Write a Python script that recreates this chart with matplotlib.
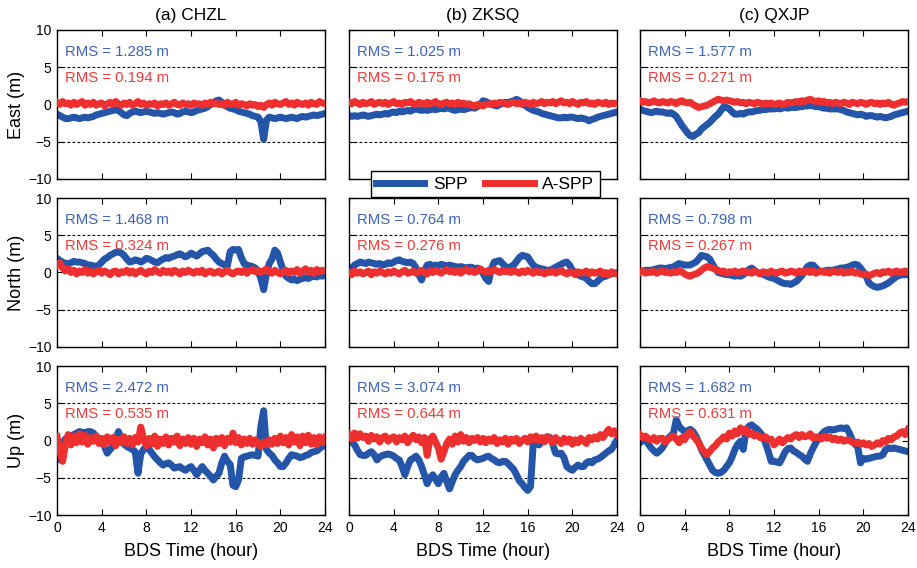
import numpy as np
import matplotlib
matplotlib.use("Agg")
import matplotlib.pyplot as plt

plt.rcParams['font.family'] = ['Liberation Sans', 'DejaVu Sans']

# stations (columns) and components (rows)
stations = ['(a) CHZL', '(b) ZKSQ', '(c) QXJP']
components = ['East (m)', 'North (m)', 'Up (m)']
series_names = ['SPP', 'A-SPP']

# RMS values, [component][station] -> (SPP, A-SPP)
rms_spp = [[1.285, 1.025, 1.577],
           [1.468, 0.764, 0.798],
           [2.472, 3.074, 1.682]]
rms_aspp = [[0.194, 0.175, 0.271],
            [0.324, 0.276, 0.267],
            [0.535, 0.644, 0.631]]

# positioning errors (m), sampled every 15 min over the day
a_E_spp = ([-1.3, -1.5, -1.7, -1.9, -1.9, -1.8, -1.7, -1.8, -1.9, -1.8, -1.7, -1.8, -1.7, -1.6, -1.4, -1.3, -1.2, -1.1, -1.0, -0.9, -0.8, -0.7, -0.8, -1.1]
           + [-1.4, -1.5, -1.2, -1.0, -0.9, -1.0, -1.1, -1.0, -0.9, -1.0, -1.1, -1.2, -1.1, -1.2, -1.3, -1.2, -1.1, -1.0, -1.1, -1.3, -1.2, -1.0, -0.9, -1.0]
           + [-1.1, -1.0, -0.8, -0.7, -0.6, -0.5, -0.3, 0.0, 0.2, 0.5, 0.6, 0.3, -0.1, -0.3, -0.5, -0.6, -0.7, -0.9, -1.0, -1.1, -1.2, -1.3, -1.5, -1.6]
           + [-1.7, -2.3, -4.7, -2.1, -1.7, -1.8, -1.9, -1.8, -1.7, -1.8, -1.9, -1.8, -1.7, -1.8, -1.9, -1.7, -1.6, -1.7, -1.6, -1.5, -1.4, -1.5, -1.4, -1.3, -1.2])
a_E_aspp = ([0.3, 0.0, 0.4, 0.1, 0.2, -0.1, 0.3, 0.0, 0.2, 0.4, -0.1, 0.2, 0.0, 0.3, -0.1, 0.1, 0.2, -0.2, 0.1, 0.3, 0.0, 0.4, 0.1, -0.1]
            + [0.2, 0.0, 0.3, -0.1, 0.1, 0.4, 0.0, 0.2, -0.1, 0.1, 0.0, 0.2, -0.2, 0.1, 0.0, 0.2, -0.1, 0.1, 0.3, 0.0, -0.1, 0.2, 0.0, 0.1]
            + [-0.1, 0.2, 0.0, 0.1, -0.1, 0.2, 0.0, 0.3, 0.1, 0.2, 0.0, 0.1, -0.1, 0.3, 0.1, 0.0, 0.3, -0.1, 0.1, 0.0, -0.2, 0.1, -0.1, 0.0]
            + [-0.3, -0.1, -0.4, 0.0, 0.2, -0.1, 0.3, 0.1, 0.0, 0.2, 0.4, 0.0, 0.2, -0.1, 0.3, 0.1, 0.0, 0.2, -0.1, 0.3, 0.1, 0.0, 0.4, 0.2, 0.1])

b_E_spp = ([-1.5, -1.6, -1.5, -1.6, -1.5, -1.4, -1.5, -1.6, -1.5, -1.4, -1.3, -1.4, -1.3, -1.2, -1.3, -1.1, -1.0, -1.1, -0.9, -1.0, -0.9, -0.8, -0.9, -0.7]
           + [-0.6, -0.7, -0.8, -0.7, -0.8, -0.7, -0.6, -0.7, -0.6, -0.5, -0.6, -0.5, -0.5, -0.7, -0.8, -0.7, -0.6, -0.7, -0.6, -0.5, -0.4, -0.5, -0.3, 0.0]
           + [0.5, 0.4, 0.2, 0.0, -0.1, -0.2, 0.0, 0.1, 0.3, 0.2, 0.4, 0.5, 0.7, 0.5, 0.2, -0.1, -0.4, -0.6, -0.8, -0.9, -1.0, -1.2, -1.3, -1.4]
           + [-1.5, -1.6, -1.7, -1.8, -1.8, -1.7, -1.8, -1.7, -1.7, -1.8, -1.9, -1.8, -1.9, -2.0, -2.2, -2.0, -1.9, -1.7, -1.6, -1.5, -1.4, -1.3, -1.2, -1.1, -1.0])
b_E_aspp = ([0.3, 0.1, 0.4, 0.2, 0.0, 0.3, 0.1, 0.2, 0.4, 0.0, 0.2, 0.3, 0.1, 0.3, 0.0, 0.2, 0.4, 0.1, 0.2, 0.0, 0.3, 0.2, 0.4, 0.1]
            + [0.0, 0.3, 0.2, 0.0, 0.3, 0.1, 0.2, 0.4, 0.1, 0.0, 0.2, 0.3, 0.1, 0.2, 0.0, 0.3, 0.1, 0.2, 0.0, 0.1, -0.1, -0.2, 0.0, -0.1]
            + [-0.2, 0.0, 0.1, 0.0, 0.2, 0.1, 0.3, 0.2, 0.1, 0.0, 0.2, 0.3, 0.1, 0.2, 0.0, 0.3, 0.2, 0.0, 0.3, 0.1, 0.2, 0.4, 0.1, 0.3]
            + [0.2, 0.4, 0.1, 0.3, 0.5, 0.2, 0.3, 0.1, 0.4, 0.2, 0.0, 0.3, 0.2, 0.4, 0.1, 0.2, 0.0, 0.3, 0.2, 0.1, 0.3, 0.0, 0.2, 0.1, 0.2])

c_E_spp = ([-0.6, -0.8, -0.9, -1.0, -1.1, -1.0, -0.9, -1.0, -1.0, -1.1, -1.2, -1.1, -1.3, -1.6, -2.2, -2.8, -3.3, -3.8, -4.2, -4.3, -4.0, -3.8, -3.3, -3.0]
           + [-2.7, -2.4, -2.0, -1.6, -1.3, -0.8, -0.3, -0.4, -0.6, -1.0, -1.3, -1.3, -1.2, -1.3, -1.1, -1.0, -1.0, -0.9, -0.8, -0.8, -0.6, -0.7, -0.6, -0.6]
           + [-0.6, -0.5, -0.6, -0.5, -0.4, -0.5, -0.4, -0.4, -0.4, -0.3, -0.3, -0.2, -0.2, -0.1, -0.2, -0.3, -0.3, -0.4, -0.5, -0.5, -0.6, -0.6, -0.6, -0.6]
           + [-0.7, -0.8, -1.0, -1.1, -1.2, -1.3, -1.4, -1.3, -1.4, -1.6, -1.5, -1.5, -1.6, -1.7, -1.6, -1.7, -1.8, -1.7, -1.6, -1.4, -1.3, -1.2, -1.1, -1.0, -0.9])
c_E_aspp = ([0.5, 0.3, 0.4, 0.2, 0.3, 0.5, 0.3, 0.2, 0.4, 0.3, 0.2, 0.4, 0.3, 0.1, 0.4, 0.5, 0.3, 0.2, 0.3, 0.0, -0.2, -0.4, -0.3, -0.2]
            + [-0.1, 0.1, 0.3, 0.5, 0.7, 0.6, 0.5, 0.6, 0.5, 0.4, 0.3, 0.4, 0.2, 0.3, 0.1, 0.3, 0.2, 0.1, 0.3, 0.2, 0.0, 0.2, 0.1, 0.2]
            + [0.0, 0.1, 0.2, 0.0, 0.1, 0.3, 0.2, 0.3, 0.4, 0.3, 0.5, 0.4, 0.6, 0.7, 0.5, 0.4, 0.5, 0.3, 0.4, 0.2, 0.3, 0.1, 0.3, 0.2]
            + [0.1, 0.3, 0.2, 0.0, 0.3, 0.2, 0.1, 0.3, 0.2, 0.0, 0.2, 0.3, 0.1, 0.2, 0.0, 0.2, 0.1, 0.3, 0.0, -0.1, 0.1, 0.2, 0.4, 0.3, 0.4])

a_N_spp = ([1.9, 1.6, 1.4, 1.2, 1.2, 1.3, 1.5, 1.4, 1.4, 1.3, 1.2, 1.0, 1.0, 0.9, 0.8, 1.0, 1.4, 1.8, 2.0, 2.3, 2.5, 2.7, 2.8, 2.6]
           + [2.3, 1.8, 1.4, 1.5, 1.7, 1.6, 1.4, 1.6, 1.9, 1.8, 1.6, 1.4, 1.3, 1.6, 1.8, 2.0, 1.9, 2.1, 2.2, 2.4, 2.5, 2.3, 2.1, 2.3]
           + [2.6, 2.4, 2.2, 2.5, 2.8, 2.9, 3.0, 2.6, 2.3, 1.8, 1.4, 1.2, 1.0, 0.9, 2.8, 3.1, 3.0, 3.1, 2.0, 1.2, 1.0, 0.9, 0.8, 0.6]
           + [0.2, -0.8, -2.3, -0.2, 1.2, 1.8, 3.0, 2.6, 1.4, 0.3, -0.5, -0.8, -1.0, -0.9, -1.1, -0.9, -0.8, -0.7, -0.8, -0.6, -0.5, -0.6, -0.4, -0.5, -0.3])
a_N_aspp = ([1.0, 1.3, 0.6, 0.2, 0.5, 0.0, 0.3, -0.2, 0.2, 0.0, 0.4, -0.1, 0.2, -0.2, 0.1, 0.3, -0.1, 0.2, 0.0, -0.3, 0.1, 0.2, -0.2, 0.1]
            + [0.0, 0.3, -0.1, 0.2, -0.2, 0.1, 0.3, 0.0, -0.2, 0.2, 0.0, 0.4, 0.1, -0.1, 0.3, 0.0, 0.2, -0.1, 0.3, 0.1, -0.2, 0.2, 0.0, 0.3]
            + [0.1, -0.1, 0.2, 0.0, 0.3, -0.2, 0.1, 0.2, -0.1, 0.0, 0.2, -0.2, 0.1, 0.3, 0.0, -0.2, 0.1, 0.2, 0.0, 0.3, -0.1, 0.2, 0.4, 0.1]
            + [0.3, 0.0, 0.2, 0.5, 0.1, -0.1, 0.3, 0.0, -0.2, 0.1, 0.3, -0.1, 0.2, 0.0, 0.4, -0.1, 0.2, 0.5, 0.0, 0.3, -0.1, 0.4, 0.1, 0.3, 0.2])

b_N_spp = ([0.3, 0.6, 1.0, 1.2, 1.4, 1.3, 1.2, 1.4, 1.3, 1.2, 1.1, 1.2, 1.0, 1.1, 1.3, 1.2, 1.4, 1.6, 1.7, 1.5, 1.4, 1.3, 1.4, 1.2]
           + [0.6, -0.3, -1.0, 0.2, 1.0, 1.1, 0.9, 1.0, 0.9, 1.1, 1.0, 0.8, 1.0, 0.9, 0.8, 0.7, 0.8, 0.7, 0.6, 0.7, 0.7, 0.5, 0.6, 0.3]
           + [-0.1, -0.8, -1.2, 0.5, 1.4, 1.5, 1.6, 1.2, 0.8, 0.6, 0.8, 1.0, 1.5, 2.0, 2.3, 2.2, 2.1, 1.5, 1.0, 0.7, 0.6, 0.5, 0.4, 0.3]
           + [0.3, 0.5, 0.7, 0.9, 1.1, 1.3, 1.4, 1.0, 0.3, 0.0, -0.3, -0.5, -0.6, -0.8, -1.2, -1.5, -1.5, -1.2, -0.8, -0.6, -0.5, -0.3, -0.2, -0.1, 0.0])
b_N_aspp = ([0.0, -0.3, 0.2, -0.1, 0.1, -0.2, 0.0, 0.2, -0.3, 0.1, -0.1, 0.2, 0.0, -0.2, 0.1, -0.1, 0.2, 0.0, -0.2, 0.1, 0.3, -0.1, 0.0, 0.2]
            + [-0.1, 0.1, 0.3, 0.0, -0.2, 0.2, 0.0, 0.3, 0.1, -0.1, 0.2, 0.4, 0.1, 0.2, 0.0, 0.3, -0.1, 0.2, 0.4, 0.1, 0.3, 0.0, 0.2, 0.5]
            + [0.2, 0.0, 0.3, 0.1, 0.4, 0.2, 0.0, 0.3, 0.1, 0.2, 0.0, 0.3, 0.1, -0.1, 0.2, 0.0, 0.3, 0.1, -0.1, 0.2, 0.0, 0.1, -0.2, 0.1]
            + [0.0, 0.2, -0.1, 0.1, 0.3, 0.0, -0.2, 0.1, 0.0, -0.3, 0.1, -0.1, 0.0, 0.2, -0.2, 0.1, -0.1, 0.0, 0.2, -0.2, 0.0, -0.3, 0.1, -0.1, -0.2])

c_N_spp = ([0.1, 0.2, 0.3, 0.3, 0.3, 0.4, 0.5, 0.6, 0.6, 0.5, 0.6, 0.7, 0.7, 1.0, 1.2, 1.1, 1.0, 1.0, 1.0, 1.2, 1.4, 1.8, 2.3, 2.2]
           + [2.1, 1.8, 1.1, 0.5, 0.0, -0.1, -0.2, -0.3, -0.3, -0.4, -0.5, -0.4, -0.5, -0.3, 0.0, 0.4, 0.6, 0.3, 0.0, -0.1, -0.2, -0.4, -0.6, -0.7]
           + [-0.8, -1.0, -1.2, -1.4, -1.5, -1.5, -1.6, -1.4, -1.2, -0.8, -0.4, 0.2, 0.8, 1.0, 1.0, 0.6, 0.2, 0.1, 0.2, 0.3, 0.3, 0.3, 0.4, 0.5]
           + [0.6, 0.6, 0.7, 0.8, 1.0, 1.1, 1.0, 0.6, 0.1, -0.5, -1.4, -1.7, -1.9, -2.0, -1.9, -1.8, -1.6, -1.4, -1.1, -0.8, -0.5, -0.4, -0.3, -0.3, -0.3])
c_N_aspp = ([0.0, 0.2, -0.1, 0.1, 0.0, 0.2, -0.1, 0.1, 0.2, 0.0, 0.1, -0.1, 0.1, 0.0, 0.2, 0.1, -0.2, -0.4, -0.5, -0.3, -0.2, 0.0, 0.3, 0.6]
            + [0.8, 0.7, 0.6, 0.4, 0.3, 0.1, 0.2, -0.1, 0.1, 0.0, 0.2, -0.1, 0.1, 0.2, 0.0, 0.1, -0.1, 0.2, 0.0, -0.2, 0.1, 0.0, -0.1, 0.2]
            + [0.0, -0.1, 0.1, 0.2, -0.1, 0.0, 0.2, 0.1, -0.1, 0.2, 0.0, 0.1, 0.3, 0.0, 0.2, -0.1, 0.1, 0.2, 0.0, 0.1, -0.1, 0.2, 0.1, 0.0]
            + [0.2, -0.1, 0.1, 0.0, 0.2, -0.1, 0.0, -0.2, -0.3, -0.2, -0.4, -0.3, -0.1, 0.0, -0.2, 0.1, 0.0, 0.2, -0.1, 0.1, 0.2, 0.0, 0.1, 0.2, 0.0])

a_U_spp = ([-2.1, -2.6, -0.3, 0.2, 0.3, 0.6, 0.8, 1.0, 1.2, 1.1, 1.0, 1.2, 1.2, 1.0, 0.6, 0.3, -0.1, -0.8, -1.7, -1.2, -0.8, 0.2, 1.2, 0.3]
           + [-0.5, -0.8, -1.0, -1.2, -1.5, -4.4, -1.8, -1.2, -0.8, -1.2, -1.7, -2.2, -2.6, -3.0, -3.3, -3.1, -3.0, -3.3, -3.7, -3.6, -3.5, -3.8, -4.0, -3.7]
           + [-3.5, -4.0, -4.6, -4.0, -3.5, -4.0, -4.4, -4.8, -5.3, -4.8, -4.4, -3.0, -2.1, -2.8, -3.2, -6.0, -6.2, -5.3, -2.4, -2.2, -2.1, -2.0, -1.9, -2.0]
           + [-2.1, 1.9, 4.0, -1.2, -1.7, -2.0, -2.6, -3.0, -3.5, -3.5, -3.0, -2.4, -1.9, -2.0, -2.1, -2.3, -2.2, -2.0, -1.9, -1.6, -1.5, -1.4, -1.1, -0.8, -0.6])
a_U_aspp = ([0.5, -1.5, -2.8, -0.5, 0.8, -0.6, 0.6, -0.3, 0.9, -0.2, 0.7, -0.5, 0.4, -0.1, 0.6, -0.4, 0.3, -0.6, 0.5, -0.2, 0.4, -0.7, 0.2, -0.3]
            + [0.5, -0.4, 0.3, -0.6, 0.4, -0.2, 1.8, 0.2, -0.7, 0.3, -0.5, 0.6, -0.8, 0.2, -0.4, 0.5, -0.6, 0.3, -0.2, 0.6, -0.7, 0.2, -0.4, 0.4]
            + [-0.5, 0.3, -0.8, 0.2, -0.3, 0.5, -0.6, 0.2, -1.0, 0.3, -0.4, 0.4, -0.7, 0.3, -0.2, 1.0, -0.3, 0.4, -0.6, 0.2, -0.4, 0.3, -0.5, 0.1]
            + [-0.4, -0.8, -0.2, -0.6, 0.1, -0.5, 0.3, -0.4, 0.6, -0.3, 0.4, -0.6, 0.8, -0.2, 0.5, -0.7, 0.6, -0.3, 0.7, -0.5, 0.4, -0.6, 0.5, -0.3, 0.4])

b_U_spp = ([0.3, -0.2, -0.6, -1.3, -1.9, -2.0, -2.0, -1.7, -1.5, -1.9, -2.6, -2.2, -2.0, -1.9, -1.8, -1.9, -2.1, -2.4, -2.6, -3.5, -4.6, -3.5, -2.6, -2.4]
           + [-2.1, -2.6, -3.5, -4.6, -5.8, -5.0, -4.6, -5.2, -5.8, -4.9, -4.4, -5.5, -6.5, -5.5, -4.6, -4.0, -3.5, -2.8, -2.4, -2.0, -2.0, -2.4, -2.6, -2.5]
           + [-2.4, -2.2, -2.1, -2.4, -2.6, -2.9, -3.0, -2.8, -2.8, -3.1, -3.5, -3.9, -4.6, -5.4, -5.8, -6.3, -6.7, -6.2, -0.3, 0.0, -0.6, -0.2, 0.3, 0.5]
           + [0.4, -0.5, -1.7, -1.8, -1.7, -2.3, -3.5, -3.8, -4.0, -3.6, -3.3, -3.5, -3.5, -3.0, -2.8, -3.0, -2.6, -2.5, -2.3, -2.0, -1.7, -1.4, -1.2, -0.6, 0.1])
b_U_aspp = ([0.8, 0.2, 1.0, 0.3, 0.9, 0.4, 0.6, -0.1, 0.7, 0.2, 0.5, -0.2, 0.4, 0.6, -0.1, 0.3, 0.5, -0.2, 0.4, 0.1, 0.6, -0.3, 0.3, 0.7]
            + [0.1, 0.5, -0.3, 0.4, -2.0, 0.2, 0.6, -0.2, -1.0, -2.5, -1.5, -0.4, 0.2, -0.5, 0.6, -0.2, 0.8, -0.1, 0.4, -0.3, 0.3, 0.0, 0.4, -0.2]
            + [0.3, -0.3, 0.2, -0.1, 0.4, -0.4, 0.1, -0.2, 0.3, -0.5, 0.2, -0.1, 0.3, -0.4, 0.0, 0.3, -0.2, 0.5, 0.1, 0.6, 0.0, 0.4, -0.2, 0.5]
            + [0.2, -0.3, 0.4, 0.0, -0.4, 0.3, -0.2, 0.2, -0.5, 0.1, -0.3, 0.3, 0.0, -0.4, 0.4, 0.1, 0.5, 0.2, 0.8, 0.4, 1.0, 1.5, 0.9, 1.3, 0.8])

c_U_spp = ([-0.3, 0.0, 0.1, -0.5, -1.0, -1.4, -1.7, -1.4, -1.0, -0.4, 0.3, 0.6, 1.0, 2.8, 1.9, 1.5, 1.2, 1.3, 1.5, 1.2, 0.6, -0.2, -1.2, -1.9]
           + [-2.6, -3.3, -4.0, -4.3, -4.4, -4.3, -4.0, -3.5, -3.0, -2.2, -1.2, -0.5, -0.1, -1.2, 1.5, 1.9, 2.1, 1.8, 1.5, 1.1, 0.6, -0.4, -1.5, -2.8]
           + [-2.8, -2.9, -3.0, -2.3, -1.5, -1.1, -1.0, -1.4, -1.6, -1.9, -2.1, -2.5, -2.8, -1.8, -1.0, -0.3, 0.3, 0.8, 1.2, 1.4, 1.5, 1.4, 1.5, 1.6]
           + [1.7, 1.6, 1.7, 1.0, 0.1, -0.5, -0.9, -3.0, -2.4, -2.5, -2.4, -2.3, -2.2, -2.1, -2.1, -1.9, -1.2, -1.0, -1.1, -1.0, -1.1, -1.2, -1.3, -1.4, -1.5])
c_U_aspp = ([0.8, 0.4, 0.6, 0.2, 0.1, 0.4, -0.1, 0.3, 0.3, -0.2, 0.1, 0.4, 0.6, 0.2, -0.3, 0.4, 0.1, 0.8, 1.2, 0.6, 0.2, -0.3, -1.0, -1.5]
            + [-1.9, -1.5, -1.0, -0.7, -0.2, 0.1, 0.5, 0.2, 1.0, 0.6, 1.3, 0.9, 1.7, 1.2, 1.5, 0.8, 1.0, 0.6, 0.8, 0.4, 0.3, 0.5, 0.1, 0.2]
            + [-0.6, -0.2, 0.2, -0.3, 0.1, 0.4, 0.2, 0.6, 0.8, 0.4, 0.8, 0.5, 0.6, 0.9, 0.3, 0.5, 0.4, 0.2, 0.6, 0.3, 0.5, 0.1, 0.3, 0.0]
            + [0.2, -0.1, 0.1, 0.0, -0.2, -0.4, -0.2, -0.5, -0.3, -0.6, -0.4, -0.8, -0.6, -0.3, -0.5, 0.0, -0.2, 0.3, 0.1, 0.5, 0.6, 1.0, 1.2, 0.8, 1.5])

spp = [[a_E_spp, b_E_spp, c_E_spp],
       [a_N_spp, b_N_spp, c_N_spp],
       [a_U_spp, b_U_spp, c_U_spp]]
aspp = [[a_E_aspp, b_E_aspp, c_E_aspp],
        [a_N_aspp, b_N_aspp, c_N_aspp],
        [a_U_aspp, b_U_aspp, c_U_aspp]]

blue = '#2455a8'
red = '#ee2f2f'
blue_txt = '#3c64b4'
red_txt = '#f03a3a'

fig = plt.figure(figsize=(9.17, 5.68), dpi=100)

lefts = [0.0622, 0.3806, 0.6979]
bottoms = [0.6849, 0.3891, 0.0933]
w, h = 0.2923, 0.2623

for r in range(3):
    for c in range(3):
        ax = fig.add_axes([lefts[c], bottoms[r], w, h])
        y1 = np.array(spp[r][c])
        y2 = np.array(aspp[r][c])
        t1 = 0.25 * np.arange(len(y1))
        t2 = 0.25 * np.arange(len(y2))
        ax.axhline(5, color='k', lw=0.8, ls=(0, (2.5, 2)), zorder=1)
        ax.axhline(-5, color='k', lw=0.8, ls=(0, (2.5, 2)), zorder=1)
        ax.plot(t1, y1, color=blue, lw=5, solid_joinstyle='round', zorder=2)
        ax.plot(t2, y2, color=red, lw=5, solid_joinstyle='round', zorder=3)
        ax.text(0.7, 7.0, 'RMS = %.3f m' % rms_spp[r][c], color=blue_txt,
                fontsize=10.7, va='center', zorder=4)
        ax.text(0.7, 3.5, 'RMS = %.3f m' % rms_aspp[r][c], color=red_txt,
                fontsize=10.7, va='center', zorder=4)
        ax.set_xlim(0, 24)
        ax.set_ylim(-10, 10)
        ax.set_xticks(np.arange(0, 25, 4))
        ax.set_yticks([-10, -5, 0, 5, 10])
        ax.tick_params(direction='in', top=True, right=True, length=4,
                       width=0.8, labelsize=10, colors='k', pad=4)
        for s in ax.spines.values():
            s.set_linewidth(1.0)
        if c == 0:
            ax.set_ylabel(components[r], fontsize=13, labelpad=2)
        else:
            ax.set_yticklabels([])
        if r == 2:
            ax.set_xlabel('BDS Time (hour)', fontsize=13, labelpad=6)
        else:
            ax.set_xticklabels([])
        if r == 0:
            ax.set_title(stations[c], fontsize=12.5, pad=7)

handles = [plt.Line2D([], [], color=blue, lw=5),
           plt.Line2D([], [], color=red, lw=5)]
leg = fig.legend(handles, series_names, loc='center', ncol=2,
                 bbox_to_anchor=(0.529, 0.676), fontsize=12.5,
                 frameon=True, fancybox=False, edgecolor='k',
                 framealpha=1, handlelength=2.8, handletextpad=0.5,
                 columnspacing=1.0, borderpad=0.3)
leg.get_frame().set_linewidth(1.0)

fig.savefig('out.png', dpi=100)
